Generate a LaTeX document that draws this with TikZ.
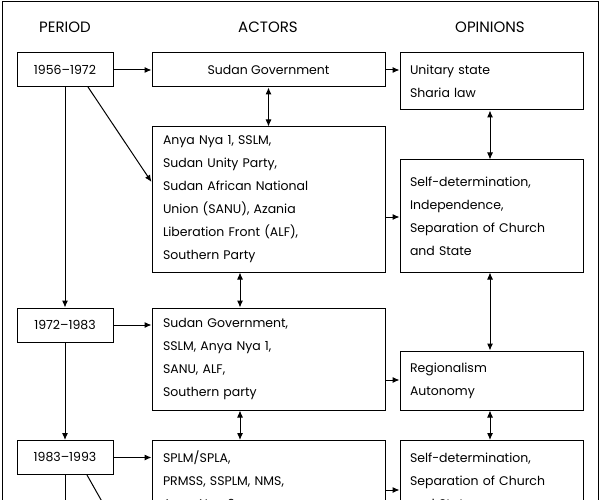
\documentclass[tikz,border=0pt]{standalone}
\usepackage{fontspec}
\setmainfont{Poppins}
\usetikzlibrary{arrows.meta}
\begin{document}
\begin{tikzpicture}[x=1pt,y=-1pt,
  every node/.style={font=\fontsize{12.5}{23}\selectfont},
  box/.style={draw,line width=1pt,rectangle,inner sep=0pt,align=left},
  hdr/.style={font=\fontsize{15}{18}\selectfont},
  arr/.style={line width=1pt,-{Latex[length=7pt,width=6pt]}},
  darr/.style={line width=1pt,{Latex[length=7pt,width=6pt]}-{Latex[length=7pt,width=6pt]}}]
\useasboundingbox (0,0) rectangle (600,500);
\clip (0,0) rectangle (600,500);
\draw[line width=1pt] (2,600) -- (2,2) -- (598,2) -- (598,600);
\node[hdr] (hp) at (65,27) {PERIOD};
\node[hdr] (ha) at (268,27) {ACTORS};
\node[hdr] (ho) at (490,27) {OPINIONS};
% periods
\node[box,minimum width=96,minimum height=34] (p1) at (65,70) {1956--1972};
\node[box,minimum width=96,minimum height=34] (p2) at (65,325) {1972--1983};
\node[box,minimum width=96,minimum height=34] (p3) at (65,457.5) {1983--1993};
% actors
\node[box,minimum width=233,minimum height=34] (a1) at (268.5,70) {Sudan Government};
\node[box,minimum width=233,minimum height=145,text width=211] (a2) at (268.5,199.5) {Anya Nya 1, SSLM,\\Sudan Unity Party,\\Sudan African National\\Union (SANU), Azania\\Liberation Front (ALF),\\Southern Party};
\node[box,minimum width=233,minimum height=102,text width=211] (a3) at (268.5,359) {Sudan Government,\\SSLM, Anya Nya 1,\\SANU, ALF,\\Southern party};
\node[box,anchor=north,minimum width=233,text width=211,inner ysep=10pt] (a4) at (268.5,440) {SPLM/SPLA,\\PRMSS, SSPLM, NMS,\\Anya Nya 2,\\};
% opinions
\node[box,minimum width=183,minimum height=57,text width=163] (o1) at (491.5,81.5) {Unitary state\\Sharia law};
\node[box,minimum width=183,minimum height=112,text width=163] (o2) at (491.5,216) {Self-determination,\\Independence,\\Separation of Church\\and State};
\node[box,minimum width=183,minimum height=59,text width=163] (o3) at (491.5,380.5) {Regionalism\\Autonomy};
\node[box,anchor=north,minimum width=183,text width=163,inner ysep=12pt] (o4) at (491.5,440) {Self-determination,\\Separation of Church\\and State\\};
% coordinates for free ends
\coordinate (c1) at (65,600);
\coordinate (c2) at (135,560);
% arrows
\draw[arr] (p1) -- (a1);
\draw[arr] (p2) -- (p2 -| a3.west);
\draw[arr] (p3) -- (p3 -| a4.west);
\draw[arr] (p1.south) -- (p2.north);
\draw[arr] (p2.south) -- (p3.north);
\draw[arr] (88,87) -- (a2.west |- 0,182);
\draw[line width=1pt] (p3.south) -- (c1);
\draw[line width=1pt] (87,475) -- (c2);
\draw[arr] (a1) -- (a1 -| o1.west);
\draw[arr] (a2.east |- 0,217) -- (o2.west |- 0,217);
\draw[arr] (a3.east |- 0,380) -- (o3.west |- 0,380);
\draw[arr] (a4.east |- 0,490) -- (o4.west |- 0,490);
\draw[darr] (a1.south) -- (a2.north);
\draw[darr] (a2.south -| 240,0) -- (a3.north -| 240,0);
\draw[darr] (a3.south -| 240,0) -- (a4.north -| 240,0);
\draw[darr] (o1.south -| 490,0) -- (o2.north -| 490,0);
\draw[darr] (o2.south -| 490,0) -- (o3.north -| 490,0);
\draw[darr] (o3.south -| 490,0) -- (o4.north -| 490,0);
\end{tikzpicture}
\end{document}
